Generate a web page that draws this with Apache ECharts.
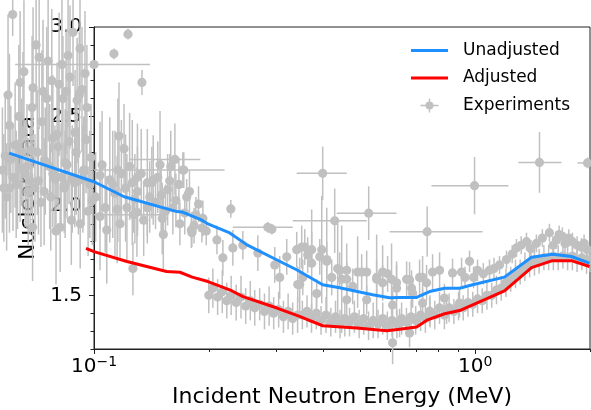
<!DOCTYPE html>
<html><head><meta charset="utf-8">
<script src="https://cdn.jsdelivr.net/npm/echarts@6/dist/echarts.min.js"></script>
<style>html,body{margin:0;padding:0;background:#fff}#c{width:591px;height:410px}</style>
</head><body><div id="c"></div>
<script>
// ---- model curves ----
const unadjE = [0.0599,0.100,0.120,0.165,0.170,0.190,0.199,0.227,0.252,0.294,0.340,0.398,0.441,0.538,0.596,0.633,0.702,0.759,0.831,0.910,0.984,1.193,1.405,1.594,1.788,1.994];
const unadjV = [2.295,2.135,2.051,1.968,1.966,1.925,1.899,1.849,1.782,1.710,1.643,1.559,1.542,1.503,1.487,1.488,1.488,1.521,1.540,1.540,1.559,1.602,1.713,1.730,1.717,1.680];
const adjE = [0.0953,0.100,0.122,0.155,0.168,0.181,0.199,0.227,0.246,0.302,0.346,0.398,0.489,0.586,0.633,0.702,0.750,0.831,0.910,1.193,1.405,1.594,1.788,1.994];
const adjV = [1.763,1.744,1.689,1.633,1.629,1.602,1.577,1.531,1.493,1.429,1.382,1.330,1.317,1.302,1.311,1.323,1.363,1.397,1.415,1.525,1.655,1.694,1.694,1.661];

// ---- experiments (energy MeV, value, vertical half error) ----
const leftE = [0.0575,0.0580,0.0590,0.0600,0.0600,0.0612,0.0613,0.0621,0.0630,0.0640,0.0640,0.0651,0.0660,0.0667,0.0680,0.0688,0.0690,0.0692,0.0700,0.0710,0.0718,0.0726,0.0735,0.0745,0.0758,0.0770,0.0780,0.0780,0.0790,0.0800,0.0805,0.0815,0.0824,0.0829,0.0835,0.0840,0.0840,0.0845,0.0850,0.0855,0.0865,0.0872,0.0881,0.0890,0.0892,0.0903,0.0910,0.0919,0.0920,0.0930,0.0940,0.0940,0.0947,0.0953,0.0965,0.0975,0.0990];
const leftV = [2.20,2.10,2.05,2.45,2.10,3.07,2.16,2.34,2.12,2.69,2.21,2.41,2.18,2.22,2.14,2.55,1.88,2.66,2.10,2.30,2.83,2.02,2.64,2.25,2.81,2.05,2.38,2.18,2.15,2.40,2.33,1.88,2.79,2.60,2.10,2.12,2.24,2.64,2.23,2.84,2.72,1.92,2.97,2.13,2.41,2.59,2.14,2.88,1.90,2.65,2.20,2.19,2.74,2.37,1.97,2.12,2.03];
const leftDV = [0.35,0.30,0.30,0.40,0.25,0.12,0.30,0.35,0.25,0.40,0.30,0.45,0.30,0.35,0.30,0.40,0.30,0.45,0.30,0.35,0.40,0.25,0.40,0.30,0.45,0.30,0.35,0.30,0.30,0.40,0.35,0.25,0.40,0.35,0.25,0.30,0.30,0.35,0.30,0.40,0.40,0.25,0.30,0.25,0.35,0.35,0.30,0.35,0.25,0.35,0.30,0.30,0.35,0.30,0.25,0.30,0.25];

const left2E = [0.0585,0.0595,0.0605,0.0625,0.0635,0.0645,0.0655,0.0672,0.0684,0.0705,0.0715,0.0730,0.0740,0.0752,0.0765,0.0775,0.0795,0.0810,0.0820,0.0860,0.0877,0.0898,0.0915,0.0935,0.0958,0.0982];
const left2V = [2.28,2.62,2.26,2.12,2.50,2.30,2.75,2.08,2.31,2.90,2.14,2.47,2.08,2.60,2.22,2.70,1.86,2.68,2.16,2.36,2.15,2.30,2.62,2.15,2.55,2.27];
const left2DV = [0.35,0.45,0.30,0.30,0.40,0.30,0.40,0.30,0.35,0.35,0.30,0.40,0.30,0.40,0.35,0.40,0.30,0.40,0.30,0.35,0.30,0.35,0.35,0.30,0.35,0.30];

const lowE = [0.1037,0.110,0.1155,0.118,0.126,0.130,0.138,0.143,0.149,0.156,0.161,0.151,0.168,0.180,0.152,0.108,0.1265,0.115,0.122,0.1296,0.138,0.1037,0.1135,0.130,0.1163,0.1199,0.1336,0.1128,0.1228,0.1418,0.145,0.175,0.185,0.171,0.159];
const lowV = [2.17,2.145,2.20,2.18,2.13,2.16,2.13,2.145,2.23,2.09,1.99,1.93,1.90,1.865,1.84,1.865,1.65,1.98,1.99,1.965,1.99,1.94,2.07,2.08,2.39,2.32,2.69,2.85,2.96,2.13,2.02,2.05,1.95,2.20,2.22];
const lowDV = [0.30,0.35,0.40,0.30,0.35,0.30,0.30,0.25,0.30,0.20,0.15,0.20,0.12,0.10,0.20,0.30,0.15,0.30,0.30,0.25,0.20,0.30,0.35,0.25,0.30,0.25,0.07,0.03,0.03,0.20,0.15,0.10,0.10,0.10,0.20];

const low2E = [0.101,0.105,0.107,0.112,0.117,0.121,0.124,0.128,0.133,0.135,0.140,0.147,0.150,0.154,0.158,0.164,0.167,0.173,0.178,0.183,0.188,0.193,0.197];
const low2V = [2.05,2.23,1.99,2.12,1.90,2.10,2.22,2.04,2.18,1.92,2.05,2.16,2.06,1.97,2.14,2.03,2.12,1.96,2.08,1.89,2.01,1.93,1.86];
const low2DV = [0.25,0.30,0.25,0.30,0.20,0.30,0.30,0.25,0.25,0.20,0.20,0.20,0.20,0.15,0.15,0.15,0.15,0.12,0.12,0.10,0.10,0.10,0.08];

const midE = [0.1806,0.1919,0.2101,0.2178,0.2285,0.2313,0.2457,0.2690,0.2928,0.2979,0.3070,0.3203,0.3402,0.3506,0.3464,0.3635,0.3724,0.3957,0.4078,0.4357,0.4464,0.4601,0.4915,0.5191,0.5513,0.5716,0.6033,0.6218,0.4601,0.3571,0.3724,0.3910,0.3528,0.3423,0.3839,0.4078,0.4203,0.4410,0.4601,0.4770,0.5036,0.5191,0.5513,0.5716,0.5890,0.6218,0.6607,0.6851,0.7146,0.7454,0.6726,0.6808,0.7277,0.7729,0.8063,0.8719,0.9207,0.9662,0.6071,0.6332,0.6726,0.6071,0.7277,0.7591,0.8300,0.8410,0.9096];
const midV = [1.85,1.876,1.81,1.71,1.983,1.765,1.78,1.736,1.87,1.67,1.60,1.715,1.755,1.77,1.56,1.725,1.68,1.755,1.69,1.65,1.59,1.64,1.63,1.63,1.59,1.63,1.59,1.54,1.475,1.77,1.755,1.715,1.60,1.56,1.51,1.70,1.60,1.64,1.59,1.55,1.63,1.475,1.60,1.57,1.62,1.57,1.59,1.51,1.60,1.57,1.586,1.54,1.60,1.63,1.64,1.625,1.63,1.69,1.446,1.345,1.29,1.235,1.457,1.41,1.485,1.42,1.457];
const midDV = [0.08,0.08,0.08,0.10,0.05,0.10,0.08,0.10,0.03,0.10,0.12,0.10,0.10,0.12,0.15,0.10,0.30,0.30,0.30,0.25,0.30,0.15,0.20,0.12,0.25,0.15,0.20,0.15,0.10,0.10,0.10,0.10,0.10,0.10,0.08,0.10,0.10,0.10,0.10,0.10,0.10,0.08,0.10,0.10,0.10,0.10,0.10,0.08,0.10,0.10,0.10,0.10,0.12,0.10,0.10,0.08,0.08,0.06,0.08,0.08,0.08,0.12,0.08,0.08,0.08,0.08,0.08];

const highE = [1.014,1.090,1.158,1.208,1.283,1.363,1.447,1.565,1.633,1.693,1.799,1.899,1.969,1.32,1.40,1.50,1.60,1.66,1.72,1.76,1.85,1.93,1.25,1.12,1.05,0.99,0.94];
const highV = [1.64,1.64,1.67,1.70,1.765,1.80,1.79,1.85,1.81,1.83,1.80,1.77,1.755,1.78,1.76,1.82,1.78,1.84,1.79,1.82,1.78,1.79,1.73,1.65,1.62,1.60,1.60];
const highDV = [0.06,0.06,0.05,0.05,0.05,0.05,0.05,0.05,0.05,0.05,0.05,0.05,0.05,0.05,0.05,0.05,0.05,0.05,0.05,0.05,0.05,0.05,0.05,0.06,0.06,0.06,0.06];

const bandE = [0.200,0.205,0.211,0.217,0.223,0.229,0.236,0.243,0.250,0.257,0.264,0.272,0.280,0.288,0.296,0.305,0.314,0.323,0.332,0.342,0.352,0.362,0.372,0.383,0.394,0.406,0.418,0.430,0.442,0.455,0.468,0.482,0.496,0.510,0.525,0.540,0.556,0.572,0.588,0.605,0.623,0.641,0.660,0.679,0.698,0.719,0.740,0.761,0.783,0.806,0.830,0.854,0.879,0.904,0.930,0.957,0.985,1.014,1.043,1.073,1.105,1.137,1.170,1.204,1.239,1.275,1.312,1.350,1.389,1.430,1.471,1.514,1.558,1.603,1.650,1.698,1.747,1.798,1.850,1.904,1.959,2.000];
const bandV = [1.50,1.54,1.49,1.52,1.47,1.50,1.46,1.49,1.44,1.47,1.43,1.45,1.41,1.44,1.40,1.42,1.38,1.41,1.37,1.39,1.39,1.41,1.37,1.40,1.36,1.39,1.35,1.38,1.34,1.37,1.35,1.38,1.34,1.37,1.33,1.36,1.34,1.37,1.33,1.36,1.34,1.37,1.35,1.38,1.36,1.39,1.37,1.41,1.39,1.43,1.39,1.43,1.41,1.44,1.43,1.46,1.45,1.48,1.47,1.50,1.50,1.53,1.54,1.57,1.59,1.62,1.63,1.66,1.67,1.69,1.69,1.71,1.71,1.72,1.71,1.72,1.71,1.72,1.70,1.71,1.69,1.70];
const bandDV = [0.10,0.11,0.10,0.12,0.10,0.11,0.10,0.12,0.10,0.11,0.10,0.09,0.10,0.11,0.09,0.10,0.09,0.10,0.09,0.10,0.08,0.09,0.08,0.09,0.08,0.10,0.08,0.09,0.08,0.10,0.08,0.09,0.08,0.09,0.08,0.10,0.08,0.09,0.08,0.09,0.08,0.09,0.08,0.09,0.08,0.09,0.08,0.09,0.08,0.09,0.08,0.08,0.07,0.08,0.07,0.08,0.07,0.08,0.07,0.08,0.07,0.08,0.07,0.08,0.07,0.08,0.07,0.08,0.07,0.08,0.07,0.07,0.07,0.08,0.07,0.07,0.07,0.08,0.07,0.07,0.07,0.07];

// points with horizontal error bars
const hE  = [0.1000,0.172,0.163,0.127,0.2856,0.398,0.4279,0.5254,0.748,0.9958,1.474,1.97];
const hV  = [2.79,2.20,2.26,1.95,1.88,2.182,1.917,1.959,1.856,2.113,2.243,2.24];
const hLo = [0.0621,0.100,0.124,0.100,0.2313,0.3402,0.3322,0.4331,0.5963,0.768,1.298,1.854];
const hHi = [0.1402,0.220,0.190,0.151,0.3322,0.4601,0.5191,0.6218,1.045,1.222,1.683,2.10];
const hDV = [0.02,0.10,0.20,0.10,0.03,0.15,0.18,0.15,0.14,0.16,0.17,0.03];

// ---- axes ticks ----
const xMajorTicks = [0.1, 1];
const xMinorTicks = [0.2,0.3,0.4,0.5,0.6,0.7,0.8,0.9,2];
const yMajorTicks = [1.5,2.0,2.5,3.0];
const yMinorTicks = [1.2,1.3,1.4,1.6,1.7,1.8,1.9,2.1,2.2,2.3,2.4,2.6,2.7,2.8,2.9];

const FONT = 'DejaVu Sans';
const GRAY = '#c0c0c0';
const AX = '#222';

function rows(E, V, DV) { return E.map((e, i) => [e, V[i], DV[i], 0, 0]); }
const expData = [].concat(
  rows(leftE, leftV, leftDV), rows(left2E, left2V, left2DV),
  rows(lowE, lowV, lowDV), rows(low2E, low2V, low2DV), rows(midE, midV, midDV),
  rows(bandE, bandV, bandDV), rows(highE, highV, highDV),
  hE.map((e, i) => [e, hV[i], hDV[i], hLo[i], hHi[i]])
);

const EXP_ICON = 'path://M0,0h0.01v0.01z M37,14h-0.01v-0.01z M9.5,6.3h18v1.4h-18z M17.8,0h1.4v14h-1.4z M22.5,7a4,4 0 1,1 -8,0a4,4 0 1,1 8,0z';
const LINE_ICON = 'path://M0,0h0.01v0.01z M37,14h-0.01v-0.01z M0,5.5h37v3h-37z';

function fmtPow(v) {
  const p = Math.round(Math.log10(v));
  return '{b|10}{s|' + (p < 0 ? '\u2212' : '') + Math.abs(p) + '}';
}

function polylineSeries(name, color, E, V) {
  return {
    name: name, type: 'custom', xAxisIndex: 0, yAxisIndex: 0, clip: false, z: 4,
    itemStyle: {color: color},
    encode: {x: 0, y: 1},
    data: E.map((e, i) => [e, V[i]]),
    renderItem: function (params, api) {
      if (params.dataIndexInside !== 0) return null;
      const pts = [];
      for (let j = 0; j < params.dataInsideLength; j++) {
        pts.push(api.coord([api.value(0, j), api.value(1, j)]));
      }
      return {type: 'polyline', shape: {points: pts},
              style: {stroke: color, lineWidth: 3, fill: null, lineJoin: 'round'}};
    }
  };
}

const chart = echarts.init(document.getElementById('c'), null, {renderer: 'canvas'});
chart.setOption({
  animation: false,
  backgroundColor: '#fff',
  grid: {left: 94, top: 27, right: 1, bottom: 61, show: true, borderColor: AX, borderWidth: 1,
         backgroundColor: 'transparent', containLabel: false, outerBoundsMode: 'none'},
  legend: {
    orient: 'vertical', left: 398, top: 28, padding: [14, 16, 12, 13], backgroundColor: '#fff',
    itemWidth: 37, itemHeight: 14, itemGap: 10.5,
    textStyle: {fontFamily: FONT, fontSize: 17, color: '#000', padding: [0, 0, 0, 10]},
    data: [{name: 'Unadjusted', icon: LINE_ICON}, {name: 'Adjusted', icon: LINE_ICON},
           {name: 'Experiments', icon: EXP_ICON}]
  },
  xAxis: [{
    type: 'log', logBase: 10, min: 0.1, max: 2, position: 'bottom',
    axisLine: {show: true, lineStyle: {color: AX, width: 1}},
    axisTick: {show: true, inside: false, length: 5, lineStyle: {color: AX}, customValues: xMajorTicks},
    axisLabel: {customValues: xMajorTicks, margin: 6, formatter: fmtPow,
      rich: {b: {fontSize: 20, fontFamily: FONT, color: '#000'},
             s: {fontSize: 14, fontFamily: FONT, color: '#000', padding: [0, 0, 9, 0]}}},
    splitLine: {show: false}, minorTick: {show: false},
    name: 'Incident Neutron Energy (MeV)', nameLocation: 'middle', nameGap: 37,
    nameTextStyle: {fontFamily: FONT, fontSize: 22, color: '#000'}
  }, {
    type: 'log', logBase: 10, min: 0.1, max: 2, position: 'bottom',
    axisLine: {show: false},
    axisTick: {show: true, inside: false, length: 3, lineStyle: {color: AX}, customValues: xMinorTicks},
    axisLabel: {show: false}, splitLine: {show: false}
  }],
  yAxis: [{
    type: 'value', min: 1.2, max: 3.0, position: 'left',
    axisLine: {show: true, lineStyle: {color: AX, width: 1}},
    axisTick: {show: true, inside: false, length: 5, lineStyle: {color: AX}, customValues: yMajorTicks},
    axisLabel: {customValues: yMajorTicks, margin: 12, formatter: v => v.toFixed(1),
      fontFamily: FONT, fontSize: 20, color: '#000'},
    splitLine: {show: false},
    name: 'Nuclear Data', nameLocation: 'middle', nameGap: 52, nameRotate: 90,
    nameTextStyle: {fontFamily: FONT, fontSize: 22, color: '#000'}
  }, {
    type: 'value', min: 1.2, max: 3.0, position: 'left',
    axisLine: {show: false},
    axisTick: {show: true, inside: false, length: 3.5, lineStyle: {color: AX}, customValues: yMinorTicks},
    axisLabel: {show: false}, splitLine: {show: false}
  }],
  series: [
    polylineSeries('Unadjusted', '#1e90ff', unadjE, unadjV),
    polylineSeries('Adjusted', '#ff0000', adjE, adjV),
    {
    name: 'Experiments', type: 'custom', xAxisIndex: 0, yAxisIndex: 0, clip: false, z: 2,
    itemStyle: {color: GRAY},
    dimensions: ['e', 'v', 'dv', 'lo', 'hi'],
    encode: {x: 0, y: 1},
    renderItem: function (params, api) {
      const e = api.value(0), v = api.value(1), dv = api.value(2), lo = api.value(3), hi = api.value(4);
      const c = api.coord([e, v]);
      const t = api.coord([e, v + dv]);
      const b = api.coord([e, v - dv]);
      const ch = [{type: 'line', shape: {x1: c[0], y1: t[1], x2: c[0], y2: b[1]},
                   style: {stroke: GRAY, lineWidth: 1.5}}];
      if (lo > 0) {
        const l = api.coord([lo, v]), h = api.coord([hi, v]);
        ch.push({type: 'line', shape: {x1: l[0], y1: c[1], x2: h[0], y2: c[1]},
                 style: {stroke: GRAY, lineWidth: 1.5}});
      }
      ch.push({type: 'circle', shape: {cx: c[0], cy: c[1], r: 4.6}, style: {fill: GRAY}});
      return {type: 'group', children: ch};
    },
    data: expData
  }]
});
</script></body></html>
